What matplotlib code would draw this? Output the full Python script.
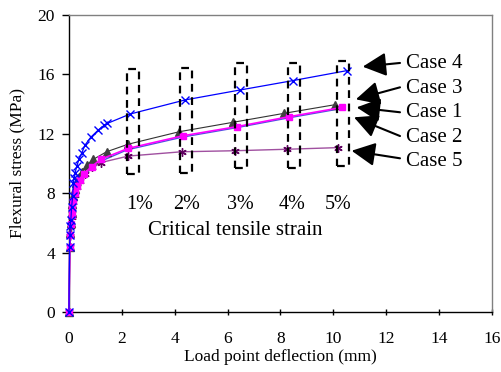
import matplotlib
matplotlib.use("Agg")
import matplotlib.pyplot as plt
from matplotlib.patches import Rectangle

plt.rcParams['font.family'] = ['Liberation Serif', 'DejaVu Serif']

# ---- data ----
case4_x = [0, 0.02, 0.04, 0.05, 0.07, 0.10, 0.14, 0.16, 0.20, 0.23, 0.29, 0.38, 0.48, 0.61, 0.82, 1.11, 1.33, 1.45, 2.31, 4.39, 6.47, 8.46, 10.5]
case4_y = [0, 4.4, 5.2, 5.8, 6.2, 7.1, 7.8, 8.7, 9.0, 9.35, 9.8, 10.3, 10.7, 11.25, 11.76, 12.26, 12.57, 12.7, 13.33, 14.28, 14.95, 15.58, 16.25]

case3_x = [0, 0.03, 0.05, 0.07, 0.1, 0.13, 0.17, 0.22, 0.28, 0.36, 0.48, 0.67, 0.92, 1.42, 2.24, 4.17, 6.19, 8.14, 10.06]
case3_y = [0, 4.4, 5.3, 6.0, 6.7, 7.3, 7.8, 8.3, 8.7, 9.1, 9.45, 9.9, 10.28, 10.79, 11.3, 12.14, 12.77, 13.38, 13.96]

case1_x = [0, 0.03, 0.05, 0.07, 0.1, 0.13, 0.17, 0.22, 0.3, 0.4, 0.55, 0.86, 1.2, 2.24, 4.32, 6.34, 8.32, 10.34]
case1_y = [0, 4.4, 5.2, 5.9, 6.5, 7.0, 7.5, 8.0, 8.5, 8.9, 9.3, 9.79, 10.28, 11.02, 11.87, 12.48, 13.15, 13.78]

case2_x = [0, 0.03, 0.05, 0.07, 0.1, 0.14, 0.19, 0.26, 0.36, 0.5, 0.8, 1.2, 2.2, 4.3, 6.3, 8.3, 10.3]
case2_y = [0, 4.3, 5.1, 5.8, 6.4, 7.0, 7.5, 8.0, 8.5, 9.0, 9.6, 10.15, 10.92, 11.78, 12.4, 13.07, 13.7]

case5_x = [0, 0.03, 0.05, 0.07, 0.1, 0.13, 0.17, 0.22, 0.3, 0.42, 0.6, 0.86, 1.2, 2.24, 4.26, 6.28, 8.26, 10.19]
case5_y = [0, 4.4, 5.1, 5.8, 6.4, 6.9, 7.4, 7.9, 8.4, 8.8, 9.3, 9.74, 10.06, 10.5, 10.79, 10.86, 10.96, 11.07]

strain_labels = ['1%', '2%', '3%', '4%', '5%']
strain_label_x = [2.69, 4.46, 6.47, 8.43, 10.17]
box_x0 = [2.18, 4.20, 6.28, 8.27, 10.15]
box_x1 = [2.66, 4.66, 6.74, 8.73, 10.60]
box_y0 = [9.27, 9.38, 9.67, 9.72, 9.83]
box_y1 = [16.34, 16.45, 16.74, 16.74, 16.90]

case_names = ['Case 4', 'Case 3', 'Case 1', 'Case 2', 'Case 5']
case_text_y = [16.75, 15.06, 13.42, 11.76, 10.12]
arrow_tail_y = [16.77, 15.13, 13.45, 11.85, 10.35]
arrow_tip_x = [11.11, 10.85, 10.88, 10.78, 10.69]
arrow_tip_y = [16.52, 14.32, 13.78, 13.11, 10.86]

x_ticks = [0, 2, 4, 6, 8, 10, 12, 14, 16]
y_ticks = [0, 4, 8, 12, 16, 20]

# ---- figure ----
fig = plt.figure(figsize=(5.02, 3.72), dpi=100)
ax = fig.add_axes([69/502, 1-312/372, (492-69)/502, (312-15)/372])

ax.plot(case2_x, case2_y, color='#5050e0', lw=1.0, zorder=2, clip_on=False)
ax.plot(case5_x, case5_y, color='#a050a0', lw=1.0, marker=(6, 2, 0), ms=6,
        mec='#600060', mew=1.0, zorder=3, clip_on=False)
ax.plot(case1_x, case1_y, color='#ff00ff', lw=1.2, marker='s', ms=5,
        mfc='#ff00ff', mec='#ff00ff', zorder=4, clip_on=False)
ax.plot(case3_x, case3_y, color='#333333', lw=0.8, marker='^', ms=6,
        mfc='#404040', mec='#404040', zorder=3, clip_on=False)
ax.plot(case4_x, case4_y, color='#0000ff', lw=0.9, marker='x', ms=6,
        mec='#0000ff', mew=1.0, zorder=5, clip_on=False)

for x0, x1, y0, y1 in zip(box_x0, box_x1, box_y0, box_y1):
    ax.add_patch(Rectangle((x0, y0), x1 - x0, y1 - y0, fill=False,
                           ec='black', lw=1.6, ls=(0, (3.5, 2.5)), zorder=6))

for lab, lx in zip(strain_labels, strain_label_x):
    ax.text(lx, 7.27, lab, ha='center', va='center', fontsize=14.5)
ax.text(6.28, 5.47, 'Critical tensile strain', ha='center', va='center', fontsize=15)

for name, ty, tly, tx, tyy in zip(case_names, case_text_y, arrow_tail_y, arrow_tip_x, arrow_tip_y):
    ax.text(12.75, ty, name, ha='left', va='center', fontsize=15)
    ax.annotate('', xy=(tx, tyy), xytext=(12.52, tly),
                arrowprops=dict(arrowstyle='-|>,head_length=0.9,head_width=0.45',
                                color='black', lw=1.5, shrinkA=0, shrinkB=0,
                                mutation_scale=16))

ax.set_xlim(0, 16)
ax.set_ylim(0, 20)
ax.set_xticks(x_ticks)
ax.set_yticks(y_ticks)
ax.tick_params(axis='x', direction='inout', length=5, labelsize=12.5, pad=11, width=1)
ax.tick_params(axis='y', direction='out', length=5, labelsize=12.5, pad=5, width=1)
for s in ['left', 'bottom']:
    ax.spines[s].set_color('black')
    ax.spines[s].set_linewidth(1.0)
for s in ['top', 'right']:
    ax.spines[s].set_color('#808080')
    ax.spines[s].set_linewidth(1.0)

ax.set_xlabel('Load point deflection (mm)', fontsize=12.5)
ax.set_ylabel('Flexural stress (MPa)', fontsize=12.5)
ax.xaxis.set_label_coords(0.5, (312 - 349) / 297)
ax.yaxis.set_label_coords((25 - 69) / 423, 0.5)

fig.savefig('out.png', dpi=100)
